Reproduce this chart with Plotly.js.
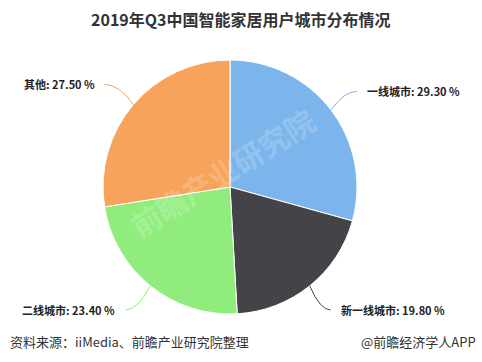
<!DOCTYPE html>
<html><head><meta charset="utf-8">
<script src="https://cdn.plot.ly/plotly-3.0.1.min.js"></script>
<style>html,body{margin:0;padding:0;background:#fff}#chart{width:482px;height:362px}</style>
</head><body><div id="chart"></div>
<script>
const categories = ["一线城市", "新一线城市", "二线城市", "其他"];
const shares = [29.30, 19.80, 23.40, 27.50];
const colors = ["#7cb5ec", "#434348", "#90ed7d", "#f7a35c"];
const titleText = "2019年Q3中国智能家居用户城市分布情况";
const sourceText = "资料来源：iiMedia、前瞻产业研究院整理";
const brandText = "@前瞻经济学人APP";

const W = 482, H = 362;
const domX = [103 / W, 357 / W];
const domY = [48 / H, 302 / H];
// pie geometry in pixels derived from domain
const cx = (domX[0] + domX[1]) / 2 * W;
const cy = H - (domY[0] + domY[1]) / 2 * H;
const R = Math.min((domX[1] - domX[0]) * W, (domY[1] - domY[0]) * H) / 2;
const px = x => x / W, py = y => 1 - y / H;

const total = shares.reduce((a, b) => a + b, 0);
const shapes = [], annotations = [];
let acc = 0;
shares.forEach((v, i) => {
  const mid = (acc + v / 2) / total * 2 * Math.PI;
  acc += v;
  const s = Math.sin(mid), c = Math.cos(mid);
  const ex = cx + R * s, ey = cy - R * c;
  const right = s >= 0;
  const lx = cx + (R + 30) * s + (right ? 2 : -6), ly = cy - (R + 31) * c;
  const ctrlx = ex + (lx - ex) * 0.5, ctrly = ly;
  shapes.push({
    type: "path", xref: "paper", yref: "paper",
    path: `M ${px(ex)} ${py(ey)} Q ${px(ctrlx)} ${py(ctrly)} ${px(lx)} ${py(ly)}`,
    line: {color: colors[i], width: 1}
  });
  annotations.push({
    xref: "paper", yref: "paper", x: px(lx + (right ? 8 : -8)), y: py(ly),
    xanchor: right ? "left" : "right", yanchor: "middle", showarrow: false,
    text: `<b>${categories[i]}: ${v.toFixed(2)} %</b>`,
    font: {family: "Noto Sans CJK SC, sans-serif", size: 11, color: "#222"}
  });
});

annotations.push({
  xref: "paper", yref: "paper", x: px(241), y: py(19), xanchor: "center", yanchor: "middle",
  showarrow: false, text: "<b>" + titleText + "</b>",
  font: {family: "Noto Sans CJK SC, sans-serif", size: 16, color: "#333"}
});
annotations.push({
  xref: "paper", yref: "paper", x: px(8), y: py(341), xanchor: "left", yanchor: "middle",
  showarrow: false, text: sourceText,
  font: {family: "Noto Sans CJK SC, sans-serif", size: 13, color: "#333"}
});
annotations.push({
  xref: "paper", yref: "paper", x: px(478), y: py(341), xanchor: "right", yanchor: "middle",
  showarrow: false, text: brandText,
  font: {family: "Noto Sans CJK SC, sans-serif", size: 13, color: "#333"}
});
// faint watermark
annotations.push({
  xref: "paper", yref: "paper", x: px(222), y: py(172), xanchor: "center", yanchor: "middle",
  showarrow: false, text: "<b>前瞻产业研究院</b>", textangle: -32, opacity: 0.18,
  font: {family: "Noto Sans CJK SC, sans-serif", size: 30, color: "#ffffff"}
});

const trace = {
  type: "pie", labels: categories, values: shares, sort: false,
  direction: "clockwise", rotation: 0,
  marker: {colors: colors, line: {color: "#ffffff", width: 1}},
  textinfo: "none", hoverinfo: "label+percent", showlegend: false,
  domain: {x: domX, y: domY}
};

Plotly.newPlot("chart", [trace], {
  width: W, height: H, margin: {l: 0, r: 0, t: 0, b: 0},
  paper_bgcolor: "#ffffff", showlegend: false,
  shapes: shapes, annotations: annotations
}, {displayModeBar: false, staticPlot: true});
</script></body></html>
